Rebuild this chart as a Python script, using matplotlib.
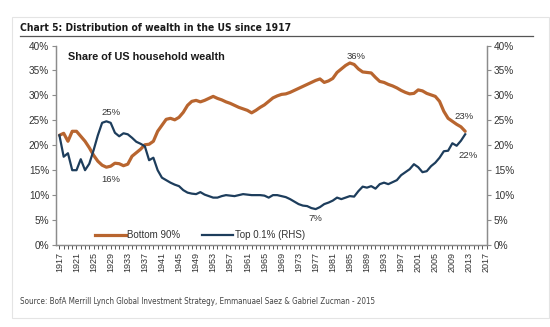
import matplotlib.pyplot as plt
from matplotlib.patches import Rectangle
from matplotlib.lines import Line2D
from matplotlib.ticker import MultipleLocator, FuncFormatter

# share of US household wealth, %
years = list(range(1917, 2013))
bottom90 = [22.0, 22.4, 20.8, 22.8, 22.8, 21.8, 20.8, 19.5, 18.0, 16.8,
            16.0, 15.6, 15.8, 16.4, 16.3, 15.9, 16.2, 17.8, 18.5, 19.2,
            20.1, 20.2, 20.8, 22.8, 24.0, 25.2, 25.4, 25.1, 25.6, 26.6,
            28.0, 28.8, 29.0, 28.7, 29.0, 29.4, 29.8, 29.4, 29.1, 28.7,
            28.4, 28.0, 27.6, 27.3, 27.0, 26.5, 27.0, 27.6, 28.1, 28.8,
            29.5, 29.9, 30.2, 30.3, 30.6, 31.0, 31.4, 31.8, 32.2, 32.6,
            33.0, 33.3, 32.6, 32.9, 33.4, 34.6, 35.3, 36.0, 36.5, 36.2,
            35.3, 34.7, 34.6, 34.5, 33.6, 32.8, 32.6, 32.2, 31.9, 31.5,
            31.0, 30.6, 30.3, 30.4, 31.1, 30.9, 30.4, 30.1, 29.8, 28.8,
            26.8, 25.4, 24.8, 24.2, 23.7, 22.8]
top01 = [22.0, 17.7, 18.4, 15.0, 15.0, 17.2, 15.0, 16.3, 19.0, 22.0,
         24.5, 24.8, 24.5, 22.5, 21.8, 22.4, 22.2, 21.5, 20.7, 20.3,
         19.8, 17.0, 17.5, 15.0, 13.5, 13.0, 12.5, 12.1, 11.8, 11.0,
         10.5, 10.3, 10.2, 10.6, 10.1, 9.8, 9.5, 9.5, 9.8, 10.0,
         9.9, 9.8, 10.0, 10.2, 10.1, 10.0, 10.0, 10.0, 9.9, 9.5,
         10.0, 10.0, 9.8, 9.6, 9.2, 8.7, 8.2, 7.9, 7.8, 7.4,
         7.2, 7.6, 8.2, 8.5, 8.9, 9.5, 9.2, 9.5, 9.8, 9.7,
         10.8, 11.7, 11.5, 11.8, 11.3, 12.2, 12.5, 12.2, 12.6, 13.0,
         14.0, 14.6, 15.2, 16.2, 15.6, 14.6, 14.8, 15.8, 16.5, 17.5,
         18.8, 18.9, 20.4, 19.9, 20.9, 22.2]

orange = '#B8652F'
navy = '#1D3D5C'
grey = '#333333'

plt.rcParams['font.family'] = ['Liberation Sans', 'DejaVu Sans']

fig = plt.figure(figsize=(5.5, 3.27), dpi=100)
ax = fig.add_axes([0.1018, 0.2508, 0.7836, 0.610])
ax2 = ax.twinx()

ax.plot(years, bottom90, color=orange, lw=2.3, solid_capstyle='round')
ax2.plot(years, top01, color=navy, lw=1.6)

pct = FuncFormatter(lambda v, p: '%d%%' % v)
for a in (ax, ax2):
    a.set_ylim(0, 40)
    a.yaxis.set_major_locator(MultipleLocator(5))
    a.yaxis.set_major_formatter(pct)
    for s in a.spines.values():
        s.set_color('#8c8c8c')
        s.set_linewidth(0.9)
    a.spines['top'].set_visible(False)
    a.tick_params(axis='y', labelsize=7.2, colors='#8c8c8c', labelcolor=grey,
                  length=3, width=0.8, pad=2)

ax.set_xlim(1916.2, 2017.1)
ax.set_xticks(range(1917, 2018, 4))
ax.set_xticklabels([str(y) for y in range(1917, 2018, 4)], rotation=90)
ax.xaxis.set_minor_locator(MultipleLocator(1))
ax.tick_params(axis='x', which='both', length=3, width=0.7, colors='#555555',
               labelcolor=grey, labelsize=6.5, pad=2)

ax.text(0.027, 0.965, 'Share of US household wealth', transform=ax.transAxes,
        fontsize=7.8, fontweight='bold', color='#1a1a1a', va='top')

notes = [(1929, 26.6, '25%'), (1929, 13.2, '16%'), (1986.5, 37.8, '36%'),
         (1977, 5.4, '7%'), (2011.8, 25.7, '23%'), (2012.6, 18.0, '22%')]
for x, y, t in notes:
    ax.text(x, y, t, fontsize=6.8, color=grey, ha='center', va='center')

handles = [Line2D([], [], color=orange, lw=2.3), Line2D([], [], color=navy, lw=1.6)]
ax.legend(handles, ['Bottom 90%', 'Top 0.1% (RHS)'], ncol=2, frameon=False,
          loc='lower left', bbox_to_anchor=(0.07, -0.02), fontsize=7,
          handlelength=3.2, handletextpad=0.15, columnspacing=2.2,
          labelcolor=grey)

# title and source in a condensed face
fig.text(20 / 550, 1 - 28 / 327, 'Chart 5: Distribution of wealth in the US since 1917',
         family='DejaVu Sans', fontstretch='condensed', fontweight='bold',
         fontsize=7.4, color='#1a1a1a', va='center')
fig.add_artist(Line2D([20 / 550, 533 / 550], [1 - 36 / 327, 1 - 36 / 327],
                      color='#555555', lw=0.9))
fig.text(20 / 550, 1 - 302 / 327,
         'Source: BofA Merrill Lynch Global Investment Strategy, Emmanuael Saez & Gabriel Zucman - 2015',
         family='DejaVu Sans', fontstretch='condensed', fontsize=5.8,
         color='#444444', va='center')
fig.add_artist(Rectangle((12 / 550, 1 - 318 / 327), 537 / 550, 301 / 327,
                         transform=fig.transFigure, fill=False,
                         edgecolor='#e4e4e4', lw=0.8))

fig.savefig('out.png', dpi=100, facecolor='white')
